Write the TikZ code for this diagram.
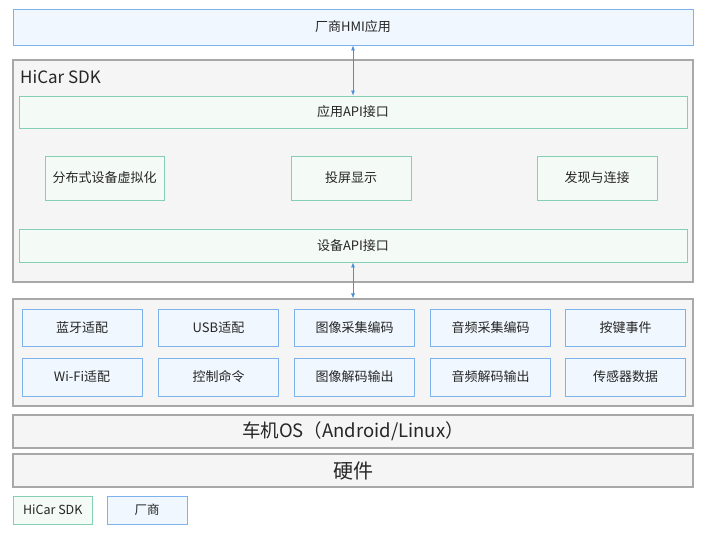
\documentclass[tikz,border=0pt]{standalone}
\usepackage{fontspec}
\setmainfont{Noto Sans CJK SC}
\usetikzlibrary{arrows.meta}
\definecolor{bluefill}{HTML}{F0F7FE}
\definecolor{blueline}{HTML}{7DB3EC}
\definecolor{greenfill}{HTML}{F4FAF5}
\definecolor{greenline}{HTML}{84CFB6}
\definecolor{grayfill}{HTML}{F5F5F5}
\definecolor{grayline}{HTML}{A8A8A8}
\definecolor{arrowblue}{HTML}{4A8FDB}
\tikzset{
  base/.style={draw, rectangle, inner sep=0pt, line width=0.9pt, font=\fontsize{13}{15}\selectfont, text=black!85},
  bluebox/.style={base, fill=bluefill, draw=blueline},
  greenbox/.style={base, fill=greenfill, draw=greenline},
  graybox/.style={base, fill=grayfill, draw=grayline, line width=1.1pt},
  link/.style={draw=arrowblue, line width=0.7pt, {Latex[length=5pt,width=4pt]}-{Latex[length=5pt,width=4pt]}}
}
\begin{document}
\begin{tikzpicture}[x=1pt,y=-1pt]
\useasboundingbox (0,0) rectangle (720,535);
% top
\node[bluebox, minimum width=680pt, minimum height=36pt] (top) at (353,27) {厂商HMI应用};
% SDK container
\node[graybox, minimum width=680pt, minimum height=222pt] (sdk) at (353,171) {};
\node[anchor=west, inner sep=0pt, font=\fontsize{17}{19}\selectfont, text=black!85] (sdklabel) at (20,77) {HiCar SDK};
\node[greenbox, minimum width=668pt, minimum height=32pt] (appapi) at (353,112) {应用API接口};
\node[greenbox, minimum width=119pt, minimum height=44pt] (dist) at (104.5,178) {分布式设备虚拟化};
\node[greenbox, minimum width=120pt, minimum height=44pt] (proj) at (351,178) {投屏显示};
\node[greenbox, minimum width=120pt, minimum height=44pt] (disc) at (597,178) {发现与连接};
\node[greenbox, minimum width=668pt, minimum height=33pt] (devapi) at (353,245.5) {设备API接口};
% vendor container
\node[graybox, minimum width=680pt, minimum height=107pt] (hwc) at (353,352.5) {};
\foreach \n/\x/\t in {a1/82/蓝牙适配, a2/218.5/USB适配, a3/354.5/图像采集编码, a4/490.5/音频采集编码, a5/625.5/按键事件}{
  \node[bluebox, minimum width=120pt, minimum height=37pt] (\n) at (\x,327.5) {\t};
}
\foreach \n/\x/\t in {b1/82/Wi-Fi适配, b2/218.5/控制命令, b3/354.5/图像解码输出, b4/490.5/音频解码输出, b5/625.5/传感器数据}{
  \node[bluebox, minimum width=120pt, minimum height=38pt] (\n) at (\x,377) {\t};
}
% OS and HW
\node[graybox, minimum width=680pt, minimum height=33pt, font=\fontsize{18.5}{21}\selectfont] (os) at (353,431.5) {车机OS（Android/Linux）};
\node[graybox, minimum width=680pt, minimum height=33pt, font=\fontsize{20}{22}\selectfont] (hw) at (353,470.5) {硬件};
% legend
\node[greenbox, minimum width=79.5pt, minimum height=28pt, font=\fontsize{12.5}{14}\selectfont] (leg1) at (52.75,510) {HiCar SDK};
\node[bluebox, minimum width=80pt, minimum height=28pt, font=\fontsize{12.5}{14}\selectfont] (leg2) at (147,510) {厂商};
% connectors
\draw[link] (top.south) -- (appapi.north);
\draw[link] (devapi.south) -- (hwc.north);
\end{tikzpicture}
\end{document}
